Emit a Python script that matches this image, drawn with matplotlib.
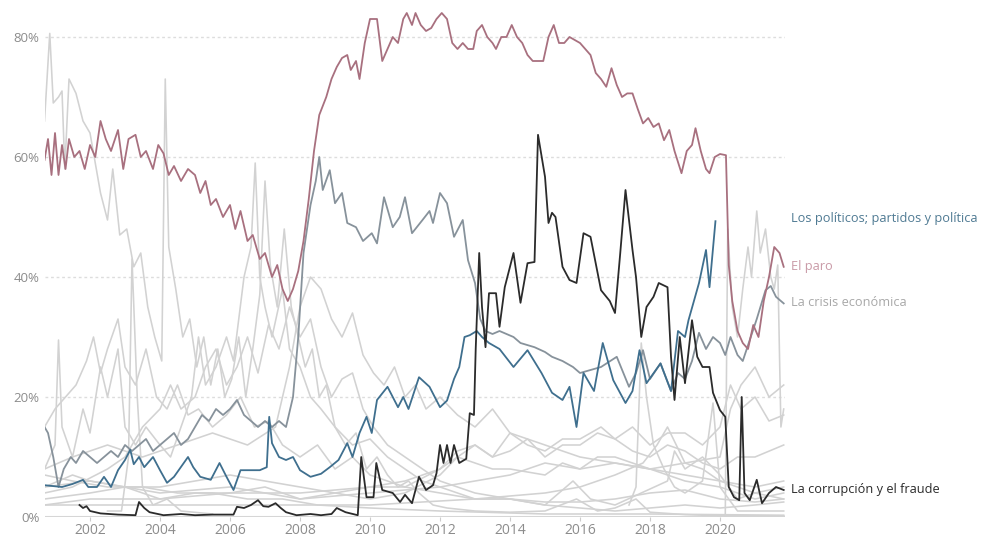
import matplotlib
matplotlib.use("Agg")
import matplotlib.pyplot as plt

plt.rcParams['font.family'] = ['Open Sans', 'DejaVu Sans']

# --- highlighted series (year, % of respondents) ---
paro_x = [2000.70, 2000.80, 2000.90, 2001.00, 2001.10, 2001.20, 2001.30, 2001.40, 2001.55, 2001.70,
          2001.85, 2002.00, 2002.15, 2002.30, 2002.45, 2002.60, 2002.80, 2002.95, 2003.10, 2003.30,
          2003.45, 2003.60, 2003.80, 2003.95, 2004.10, 2004.25, 2004.40, 2004.60, 2004.80, 2005.00,
          2005.15, 2005.30, 2005.45, 2005.60, 2005.80, 2006.00, 2006.15, 2006.30, 2006.50, 2006.65,
          2006.85, 2007.00, 2007.20, 2007.35, 2007.50, 2007.65, 2007.80, 2007.95, 2008.10, 2008.25,
          2008.40, 2008.55, 2008.75, 2008.90, 2009.05, 2009.20, 2009.35, 2009.45, 2009.60, 2009.70,
          2009.85, 2010.00, 2010.20, 2010.35, 2010.50, 2010.65, 2010.80, 2010.95, 2011.05, 2011.20,
          2011.30, 2011.45, 2011.60, 2011.75, 2011.90, 2012.05, 2012.20, 2012.35, 2012.50, 2012.65,
          2012.80, 2012.95, 2013.05, 2013.20, 2013.35, 2013.50, 2013.60, 2013.75, 2013.90, 2014.05,
          2014.20, 2014.35, 2014.50, 2014.65, 2014.80, 2014.95, 2015.10, 2015.25, 2015.40, 2015.55,
          2015.70, 2015.85, 2016.00, 2016.15, 2016.30, 2016.45, 2016.60, 2016.75, 2016.90, 2017.05,
          2017.20, 2017.35, 2017.50, 2017.65, 2017.80, 2017.95, 2018.10, 2018.25, 2018.40, 2018.55,
          2018.70, 2018.90, 2019.05, 2019.20, 2019.30, 2019.45, 2019.60, 2019.70, 2019.85, 2020.00,
          2020.17, 2020.25, 2020.35, 2020.50, 2020.65, 2020.80, 2020.95, 2021.10, 2021.25, 2021.40,
          2021.55, 2021.70, 2021.82]
paro_y = [59.5, 63, 57, 64, 57, 62, 58, 63, 60, 61,
          58, 62, 60, 66, 63, 61, 64.5, 58, 63, 63.7,
          60, 61, 58, 62, 60.6, 57, 58.5, 56, 58, 57,
          54, 56, 52, 53, 50, 52, 48, 51, 46, 47,
          43, 44, 40, 42, 38, 36, 38, 41, 46, 53,
          61, 67, 70, 73, 75, 76.5, 77, 74.5, 76, 73,
          79, 83, 83, 76, 78, 80, 79, 83, 84, 82,
          84, 82, 81, 81.5, 83, 84, 83, 79, 78, 79,
          78, 78, 81, 82, 80, 79, 78, 80, 80, 82,
          80, 79, 77, 76, 76, 76, 80, 82, 79, 79,
          80, 79.5, 79, 78, 77, 74, 73, 71.7, 74.8, 72,
          70, 70.6, 70.6, 68, 65.6, 66.5, 65, 65.6, 62.8, 64.5,
          61, 57.3, 61, 62, 64.8, 61, 58, 57.3, 60, 60.5,
          60.3, 42, 36, 31, 29, 28, 32, 30, 36, 40,
          45, 44, 41.7]

crisis_x = [2000.70, 2000.80, 2000.95, 2001.10, 2001.25, 2001.45, 2001.60, 2001.80, 2002.00, 2002.20,
            2002.40, 2002.60, 2002.80, 2003.00, 2003.20, 2003.40, 2003.60, 2003.80, 2004.00, 2004.20,
            2004.40, 2004.60, 2004.80, 2005.00, 2005.20, 2005.40, 2005.60, 2005.80, 2006.00, 2006.20,
            2006.40, 2006.60, 2006.80, 2007.00, 2007.20, 2007.40, 2007.60, 2007.80, 2007.95, 2008.10,
            2008.30, 2008.45, 2008.55, 2008.65, 2008.85, 2009.00, 2009.20, 2009.35, 2009.60, 2009.80,
            2010.05, 2010.20, 2010.40, 2010.65, 2010.85, 2011.00, 2011.20, 2011.50, 2011.70, 2011.80,
            2012.00, 2012.20, 2012.40, 2012.65, 2012.80, 2013.00, 2013.15, 2013.30, 2013.50, 2013.70,
            2014.10, 2014.30, 2014.70, 2015.00, 2015.20, 2015.50, 2015.80, 2016.00, 2016.30, 2016.60,
            2017.05, 2017.40, 2017.60, 2017.80, 2018.00, 2018.30, 2018.60, 2018.80, 2019.00, 2019.20,
            2019.40, 2019.60, 2019.80, 2020.00, 2020.15, 2020.30, 2020.50, 2020.65, 2020.85, 2021.05,
            2021.30, 2021.45, 2021.60, 2021.82]
crisis_y = [15, 14, 10, 5, 8, 10, 9, 11, 10, 9,
            10, 11, 10, 12, 11, 12, 13, 11, 12, 13,
            14, 12, 13, 15, 17, 16, 18, 17, 18, 19.5,
            17, 16, 15, 16, 15, 16, 15, 20, 30, 44,
            52, 56, 60, 54.5, 57.8, 52.3, 54, 49, 48.3, 46,
            47.3, 45.6, 53.3, 48.3, 50, 53.3, 47.3, 49.5, 51, 49,
            54, 52.3, 46.7, 49.5, 42.8, 39, 33, 31, 30.5, 31,
            30, 29, 28.3, 27.5, 26.7, 26, 25, 24, 24.5, 25,
            26.7, 21.7, 24, 27.8, 23, 25.6, 21, 24, 23, 26,
            30.7, 28, 30, 29, 27, 30, 27, 26, 29.5, 33,
            37.8, 38.5, 36.7, 35.6]

politicos_x = [2000.70, 2001.20, 2001.50, 2001.80, 2001.95, 2002.20, 2002.40, 2002.60, 2002.80, 2003.00,
               2003.15, 2003.25, 2003.40, 2003.55, 2003.80, 2004.00, 2004.20, 2004.40, 2004.80, 2004.95,
               2005.15, 2005.45, 2005.70, 2005.90, 2006.10, 2006.30, 2006.60, 2006.85, 2007.05, 2007.12,
               2007.20, 2007.40, 2007.60, 2007.80, 2008.00, 2008.30, 2008.60, 2008.85, 2009.10, 2009.35,
               2009.50, 2009.70, 2009.90, 2010.05, 2010.20, 2010.50, 2010.80, 2010.95, 2011.10, 2011.40,
               2011.70, 2012.00, 2012.20, 2012.40, 2012.55, 2012.70, 2012.85, 2013.05, 2013.20, 2013.40,
               2013.70, 2014.10, 2014.50, 2014.90, 2015.20, 2015.50, 2015.70, 2015.90, 2016.10, 2016.40,
               2016.65, 2016.95, 2017.30, 2017.50, 2017.70, 2017.90, 2018.30, 2018.60, 2018.80, 2019.00,
               2019.10, 2019.40, 2019.60, 2019.70, 2019.87]
politicos_y = [5.3, 5, 5.5, 6.2, 5, 5, 6.7, 5, 7.8, 9.5,
               11.2, 8.8, 10, 8.3, 10, 7.8, 5.7, 6.7, 10, 8.3,
               6.7, 6.2, 9, 6.7, 4.5, 7.8, 7.8, 7.8, 8.3, 16.7,
               12.3, 10, 9.5, 10, 7.8, 6.7, 7.2, 8.3, 9.5, 12.3,
               10, 14, 16.7, 14, 19.5, 21.7, 18.3, 20, 18, 23.3,
               21.7, 18.3, 19.4, 23, 25, 30, 30.3, 31, 30, 29,
               28, 25, 27.8, 24, 20.7, 19.5, 21.7, 15, 24, 21,
               29, 22.8, 19, 21, 27.8, 22.3, 25.6, 21, 31, 30,
               32.8, 39, 44.5, 38.3, 49.3]

corrupcion_x = [2001.70, 2001.80, 2001.90, 2002.00, 2002.30, 2002.80, 2003.30, 2003.40, 2003.55, 2003.70,
                2004.10, 2004.60, 2005.00, 2005.50, 2006.10, 2006.20, 2006.40, 2006.60, 2006.80, 2006.95,
                2007.10, 2007.30, 2007.45, 2007.60, 2007.90, 2008.30, 2008.60, 2008.90, 2009.05, 2009.30,
                2009.65, 2009.75, 2009.90, 2010.10, 2010.18, 2010.35, 2010.65, 2010.86, 2011.00, 2011.20,
                2011.40, 2011.60, 2011.80, 2011.90, 2012.00, 2012.10, 2012.20, 2012.30, 2012.40, 2012.55,
                2012.75, 2012.85, 2012.97, 2013.02, 2013.12, 2013.20, 2013.30, 2013.40, 2013.60, 2013.70,
                2013.85, 2014.10, 2014.30, 2014.50, 2014.70, 2014.80, 2015.00, 2015.10, 2015.20, 2015.30,
                2015.50, 2015.70, 2015.90, 2016.10, 2016.30, 2016.60, 2016.85, 2017.00, 2017.15, 2017.30,
                2017.50, 2017.60, 2017.75, 2017.90, 2018.10, 2018.25, 2018.50, 2018.60, 2018.70, 2018.85,
                2019.00, 2019.20, 2019.35, 2019.50, 2019.70, 2019.80, 2020.00, 2020.15, 2020.25, 2020.40,
                2020.55, 2020.62, 2020.70, 2020.85, 2021.05, 2021.20, 2021.40, 2021.60, 2021.82]
corrupcion_y = [2, 1.5, 1.8, 1, 0.6, 0.4, 0.3, 2.5, 1.5, 0.8,
                0.3, 0.5, 0.3, 0.4, 0.4, 1.7, 1.5, 2, 2.8, 1.8,
                1.7, 2.3, 1.5, 0.8, 0.3, 0.5, 0.3, 0.5, 1.5, 0.8,
                0.3, 10, 3.3, 3.3, 9, 4.5, 4, 2.5, 3.7, 2.3,
                6.7, 4.5, 5.3, 7.3, 12, 9, 12, 9, 12, 9,
                9.7, 17.3, 17, 28, 44, 35, 28.3, 37.3, 37.3, 31.7,
                38.3, 44, 35.7, 42.3, 42.5, 63.7, 56.7, 49, 50.7, 50,
                41.7, 39.5, 39, 47.3, 46.7, 37.8, 36, 34, 44, 54.5,
                44.5, 40, 30, 35, 36.7, 39, 38.3, 26.7, 19.5, 30,
                22.3, 32.8, 26.7, 25, 25, 20.7, 17.8, 16.7, 5, 3.3,
                2.8, 20, 4, 2.8, 6.2, 2.3, 4, 5, 4.5]

# --- background series (grey) ---
terrorismo_x = [2000.70, 2000.85, 2000.95, 2001.10, 2001.20, 2001.28, 2001.40, 2001.60, 2001.80, 2002.00,
                2002.30, 2002.50, 2002.65, 2002.85, 2003.05, 2003.25, 2003.45, 2003.65, 2003.85, 2004.05,
                2004.15, 2004.25, 2004.45, 2004.65, 2004.85, 2005.05, 2005.25, 2005.45, 2005.65, 2005.85,
                2006.05, 2006.25, 2006.45, 2006.65, 2006.85, 2007.00, 2007.15, 2007.35, 2007.55, 2007.75,
                2007.95, 2008.15, 2008.35, 2008.55, 2008.75, 2009.00, 2009.30, 2009.60, 2009.90, 2010.20,
                2010.50, 2010.80, 2011.10, 2011.40, 2011.80, 2012.20, 2013.00, 2014.00, 2015.00, 2015.90,
                2016.50, 2017.00, 2017.60, 2018.00, 2019.00, 2020.00, 2021.82]
terrorismo_y = [66, 80.6, 69, 70, 71, 58, 73, 70.6, 66, 64,
                54, 49.5, 58, 47, 48, 41.7, 44, 35, 30, 26,
                73, 45, 38, 30, 33, 25, 30, 22, 28, 20,
                23, 30, 20, 28, 37, 56, 42, 35, 48, 35,
                30, 25, 28, 20, 22, 15, 12, 14, 8, 10,
                7, 5, 6, 4, 2, 1.5, 1, 0.8, 1, 3,
                1, 1.5, 3, 0.8, 0.4, 0.2, 0.2]

inmigracion_x = [2000.70, 2001.00, 2001.10, 2001.20, 2001.50, 2001.80, 2002.00, 2002.30, 2002.50, 2002.80,
                 2003.00, 2003.30, 2003.60, 2004.00, 2004.30, 2004.60, 2004.90, 2005.10, 2005.30, 2005.60,
                 2005.90, 2006.10, 2006.40, 2006.60, 2006.72, 2006.85, 2007.00, 2007.20, 2007.50, 2007.70,
                 2008.00, 2008.30, 2008.60, 2009.00, 2009.50, 2010.00, 2010.50, 2011.00, 2011.50, 2012.00,
                 2013.00, 2014.00, 2015.00, 2015.80, 2016.30, 2017.00, 2018.50, 2018.70, 2019.00, 2019.50,
                 2020.00, 2020.50, 2021.00, 2021.82]
inmigracion_y = [8, 12, 29.5, 15, 10, 18, 14, 25, 20, 28,
                 15, 12, 15, 12, 10, 15, 20, 30, 22, 25,
                 30, 26, 40, 45, 59, 40, 35, 30, 38, 28,
                 25, 20, 18, 15, 12, 13, 10, 8, 6, 5,
                 3, 3, 2, 6, 3, 2, 6, 11, 8, 10,
                 7, 3, 4, 3]

guerra_x = [2002.50, 2002.90, 2003.10, 2003.20, 2003.35, 2003.50, 2003.80, 2004.20, 2004.60, 2005.50]
guerra_y = [1, 1, 10, 43, 20, 5, 2, 3, 1, 0.5]

inseguridad_x = [2000.70, 2001.00, 2001.30, 2001.60, 2001.90, 2002.10, 2002.30, 2002.50, 2002.80, 2003.00,
                 2003.30, 2003.60, 2003.90, 2004.20, 2004.50, 2004.80, 2005.10, 2005.50, 2005.90, 2006.30,
                 2006.70, 2007.10, 2007.50, 2008.00, 2008.50, 2009.00, 2009.50, 2010.00, 2011.00, 2012.00,
                 2013.00, 2014.00, 2015.00, 2016.00, 2017.00, 2018.00, 2019.00, 2020.00, 2021.00, 2021.82]
inseguridad_y = [15, 18, 20, 22, 26, 30, 24, 28, 33, 25,
                 22, 28, 20, 18, 22, 17, 18, 15, 17, 20,
                 15, 16, 12, 10, 12, 8, 10, 7, 5, 4,
                 3, 3, 2.5, 2.5, 3, 4, 4.5, 3, 2.5, 3]

vivienda_x = [2000.70, 2001.50, 2002.50, 2003.00, 2003.50, 2004.00, 2004.30, 2004.60, 2005.00, 2005.30,
              2005.60, 2005.90, 2006.20, 2006.50, 2006.80, 2007.10, 2007.40, 2007.70, 2008.00, 2008.30,
              2008.60, 2008.90, 2009.20, 2009.50, 2009.80, 2010.10, 2010.50, 2011.00, 2011.50, 2012.00,
              2012.50, 2013.00, 2014.00, 2015.00, 2016.00, 2017.00, 2018.00, 2019.00, 2020.00, 2021.00,
              2021.82]
vivienda_y = [4, 5, 8, 10, 15, 18, 22, 18, 20, 25,
              28, 22, 25, 30, 24, 32, 28, 35, 30, 33,
              25, 20, 23, 24, 18, 15, 12, 10, 8, 6,
              5, 4, 3, 2, 1.5, 1, 1.5, 2, 1.5, 2,
              2.5]

economia_x = [2000.70, 2001.50, 2002.50, 2003.50, 2004.50, 2005.50, 2006.50, 2007.30, 2007.70, 2008.00,
              2008.30, 2008.60, 2008.90, 2009.20, 2009.50, 2009.80, 2010.10, 2010.40, 2010.70, 2011.00,
              2011.30, 2011.60, 2012.00, 2012.50, 2013.00, 2013.50, 2014.00, 2014.50, 2015.00, 2016.00,
              2017.00, 2018.00, 2019.00, 2020.00, 2020.30, 2020.60, 2021.00, 2021.40, 2021.82]
economia_y = [8, 10, 12, 10, 12, 14, 12, 15, 25, 35,
              40, 38, 33, 30, 34, 27, 24, 22, 25, 20,
              22, 18, 20, 17, 15, 18, 14, 13, 12, 10,
              9, 8, 9, 10, 18, 22, 25, 20, 22]

sanidad_x = [2000.70, 2001.50, 2002.00, 2003.00, 2004.00, 2005.00, 2006.00, 2007.00, 2008.00, 2009.00,
             2010.00, 2011.00, 2012.00, 2012.50, 2013.00, 2013.50, 2014.00, 2014.50, 2015.00, 2015.50,
             2016.00, 2016.50, 2017.00, 2017.50, 2018.00, 2018.50, 2019.00, 2019.50, 2020.00, 2020.30,
             2020.60, 2021.00, 2021.40, 2021.82]
sanidad_y = [5, 7, 6, 5, 5, 6, 7, 6, 5, 4,
             5, 5, 8, 11, 12, 10, 11, 13, 10, 12,
             12, 14, 13, 15, 12, 14, 14, 12, 15, 22,
             18, 20, 16, 17]

educacion_x = [2000.70, 2002.00, 2003.00, 2004.00, 2005.00, 2006.00, 2007.00, 2008.00, 2009.00, 2010.00,
               2011.00, 2012.00, 2012.50, 2013.00, 2013.50, 2014.00, 2015.00, 2015.50, 2016.00, 2016.50,
               2017.00, 2017.50, 2018.00, 2019.00, 2020.00, 2021.00, 2021.82]
educacion_y = [3, 4, 5, 3, 4, 4, 5, 3, 4, 3,
               4, 7, 10, 9, 8, 8, 7, 9, 8, 10,
               10, 9, 8, 7, 6, 5, 6]

social_x = [2000.70, 2002.00, 2004.00, 2006.00, 2008.00, 2010.00, 2011.00, 2012.00, 2012.50, 2013.00,
            2013.50, 2014.00, 2014.50, 2015.00, 2015.50, 2016.00, 2016.60, 2017.00, 2017.50, 2018.00,
            2018.50, 2019.00, 2019.50, 2020.00, 2020.50, 2021.00, 2021.82]
social_y = [2, 3, 3, 4, 4, 5, 6, 8, 10, 12,
            10, 14, 12, 11, 13, 13, 15, 13, 11, 10,
            12, 11, 9, 8, 10, 10, 12]

pensiones_x = [2000.70, 2005.00, 2010.00, 2013.00, 2015.00, 2016.00, 2017.00, 2017.80, 2018.20, 2018.50,
               2019.00, 2019.50, 2020.00, 2021.00, 2021.82]
pensiones_y = [2, 2, 2, 3, 4, 5, 7, 9, 12, 15,
               9, 8, 6, 4, 5]

empleo_x = [2000.70, 2002.00, 2004.00, 2006.00, 2008.00, 2010.00, 2012.00, 2013.00, 2014.00, 2015.00,
            2016.00, 2017.00, 2018.00, 2019.00, 2020.00, 2021.00, 2021.82]
empleo_y = [5, 6, 4, 5, 3, 4, 5, 6, 7, 9,
            8, 9, 8, 6, 5, 3, 4]

drogas_x = [2000.70, 2001.50, 2002.50, 2003.50, 2004.50, 2005.50, 2006.50, 2007.50, 2008.50, 2010.00,
            2012.00, 2015.00, 2018.00, 2021.82]
drogas_y = [7, 6, 5, 5, 4, 4, 3, 3, 2, 1.5,
            1, 0.5, 0.5, 0.3]

cataluna_x = [2017.40, 2017.60, 2017.75, 2017.90, 2018.10, 2018.40, 2018.70, 2019.00, 2019.50, 2019.80,
              2020.00, 2020.50, 2021.00, 2021.82]
cataluna_y = [2, 5, 29, 20, 12, 8, 5, 4, 6, 19,
              5, 1, 1, 1]

covid_x = [2020.15, 2020.22, 2020.35, 2020.50, 2020.65, 2020.80, 2020.90, 2021.05, 2021.15, 2021.30,
           2021.45, 2021.55, 2021.65, 2021.74, 2021.82]
covid_y = [0, 48, 35, 30, 38, 45, 40, 51, 44, 48,
           40, 38, 42, 15, 18]

grey_series = [
    (terrorismo_x, terrorismo_y), (inmigracion_x, inmigracion_y), (guerra_x, guerra_y),
    (inseguridad_x, inseguridad_y), (vivienda_x, vivienda_y), (economia_x, economia_y),
    (sanidad_x, sanidad_y), (educacion_x, educacion_y), (social_x, social_y),
    (pensiones_x, pensiones_y), (empleo_x, empleo_y), (drogas_x, drogas_y),
    (cataluna_x, cataluna_y), (covid_x, covid_y),
]

fig = plt.figure(figsize=(9.92, 5.41), dpi=100)
ax = fig.add_axes([45 / 992, 24 / 541, 740 / 992, 516 / 541])

for gx, gy in grey_series:
    ax.plot(gx, gy, color='#d2d2d2', lw=1.15, zorder=2)

ax.plot(crisis_x, crisis_y, color='#87929b', lw=1.3, zorder=3)
ax.plot(politicos_x, politicos_y, color='#3f6f8e', lw=1.3, zorder=4)
ax.plot(paro_x, paro_y, color='#a8707f', lw=1.3, zorder=4)
ax.plot(corrupcion_x, corrupcion_y, color='#2b2b2b', lw=1.3, zorder=5)

# etiquetas a la derecha
labels = [
    ('Los políticos; partidos y política', 49.8, '#4f7a93'),
    ('El paro', 41.7, '#c99aa7'),
    ('La crisis económica', 35.8, '#a8a8a8'),
    ('La corrupción y el fraude', 4.5, '#2b2b2b'),
]
for txt, yv, col in labels:
    ax.annotate(txt, xy=(1, yv), xycoords=('axes fraction', 'data'),
                xytext=(4, 0), textcoords='offset points',
                va='center', ha='left', fontsize=9.2, color=col, annotation_clip=False)

ax.set_xlim(2000.714, 2021.857)
ax.set_ylim(0, 86)
ax.set_yticks([0, 20, 40, 60, 80])
ax.set_yticklabels(['0%', '20%', '40%', '60%', '80%'])
ax.set_xticks(range(2002, 2021, 2))
ax.tick_params(axis='y', length=0, labelsize=9.5, labelcolor='#8c8c8c', pad=4)
ax.tick_params(axis='x', length=3, color='#cccccc', labelsize=10, labelcolor='#8c8c8c', pad=1.5)
for s in ax.spines.values():
    s.set_visible(False)
for v in [20, 40, 60, 80]:
    ax.axhline(v, color='#dddddd', lw=1, ls=(0, (2, 2)), zorder=1)
ax.axhline(0, color='#d6d6d6', lw=1.5, zorder=1)

fig.savefig('out.png', dpi=100)
